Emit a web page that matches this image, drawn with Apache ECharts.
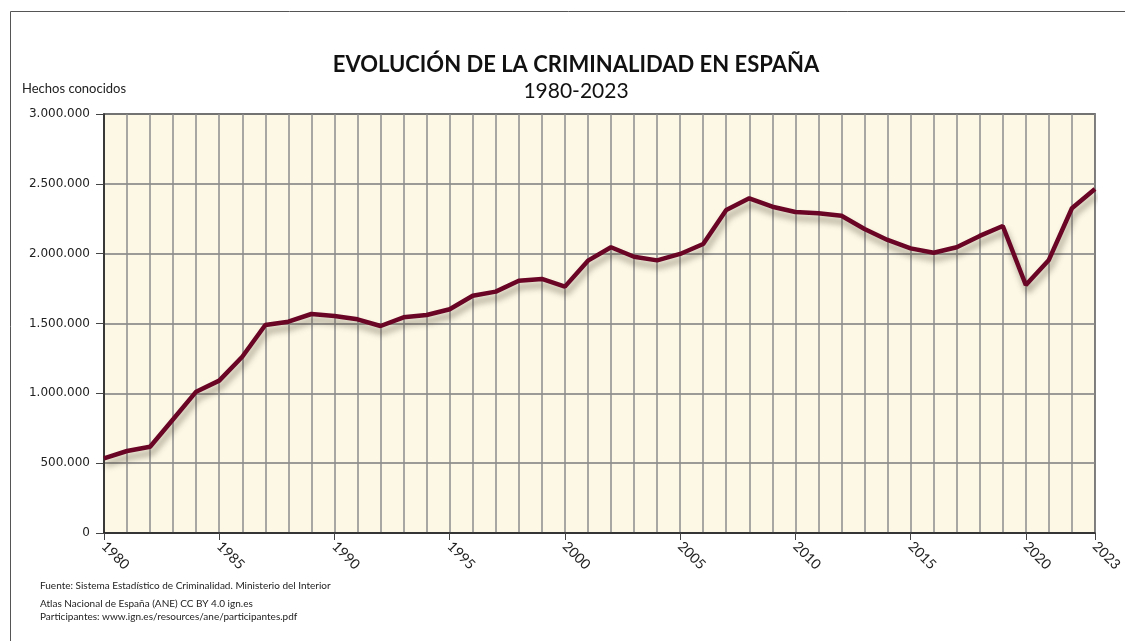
<!DOCTYPE html>
<html>
<head>
<meta charset="utf-8">
<script src="https://cdn.jsdelivr.net/npm/echarts@6/dist/echarts.min.js"></script>
<style>
  html, body { margin: 0; padding: 0; background: #fff; }
  #chart { width: 1125px; height: 641px; }
</style>
</head>
<body>
<div id="chart"></div>
<script>
// años 1980-2023
var years = [];
for (var y = 1980; y <= 2023; y++) years.push(String(y));

// hechos conocidos
var hechos = [
  535000, 587000, 618000, 814000, 1012000, 1091000, 1262000, 1489000, 1513000, 1568000,
  1554000, 1530000, 1482000, 1544000, 1561000, 1602000, 1699000, 1728000, 1806000, 1819000,
  1764000, 1950000, 2046000, 1978000, 1952000, 1998000, 2069000, 2313000, 2396000, 2336000,
  2298000, 2289000, 2272000, 2177000, 2098000, 2038000, 2007000, 2046000, 2127000, 2198000,
  1776000, 1955000, 2325000, 2463000
];

var yTicks = [0, 500000, 1000000, 1500000, 2000000, 2500000, 3000000];

var fuente = [
  "Fuente: Sistema Estadístico de Criminalidad. Ministerio del Interior",
  "Atlas Nacional de España (ANE) CC BY 4.0 ign.es",
  "Participantes: www.ign.es/resources/ane/participantes.pdf"
];

function showYear(i) {
  return i % 5 === 0 || i === years.length - 1;
}

function fmt(v) {
  return String(v).replace(/\B(?=(\d{3})+(?!\d))/g, ".");
}

var chart = echarts.init(document.getElementById("chart"));
chart.setOption({
  animation: false,
  backgroundColor: "#fff",
  title: [
    {
      text: "EVOLUCIÓN DE LA CRIMINALIDAD EN ESPAÑA",
      left: 571, top: 49, textAlign: "center",
      textStyle: { fontFamily: "Lato", fontWeight: "bold", fontSize: 22, color: "#111" }
    },
    {
      text: "1980-2023",
      left: 571, top: 76, textAlign: "center",
      textStyle: { fontFamily: "Lato", fontWeight: "normal", fontSize: 21, color: "#111" }
    }
  ],
  graphic: [
    { type: "rect", shape: { x: 10.5, y: 11.5, width: 1300, height: 800 },
      style: { fill: "none", stroke: "#555", lineWidth: 1 }, silent: true },
    { type: "text", left: 22, top: 82,
      style: { text: "Hechos conocidos", font: "13px Lato", fill: "#222" } },
    { type: "text", left: 40, top: 581,
      style: { text: fuente[0], font: "10px Lato", fill: "#222" } },
    { type: "text", left: 40, top: 599,
      style: { text: fuente[1], font: "10px Lato", fill: "#222" } },
    { type: "text", left: 40, top: 612,
      style: { text: fuente[2], font: "10px Lato", fill: "#222" } }
  ],
  grid: {
    left: 104, right: 30, top: 114, bottom: 108,
    show: true, backgroundColor: "#fdf8e6", borderColor: "#222", borderWidth: 1.5
  },
  xAxis: {
    type: "category",
    data: years,
    boundaryGap: false,
    axisLine: { lineStyle: { color: "#222", width: 1.5 } },
    axisTick: { show: true, length: 7, interval: showYear, lineStyle: { color: "#444" } },
    axisLabel: {
      interval: showYear, rotate: -45, margin: 11,
      fontFamily: "Lato", fontSize: 14, color: "#222"
    },
    splitLine: { show: true, interval: 0, lineStyle: { color: "#8c8c8c", width: 1.5 } }
  },
  yAxis: {
    type: "value",
    min: yTicks[0], max: yTicks[yTicks.length - 1], interval: 500000,
    axisLine: { show: true, lineStyle: { color: "#222", width: 1.5 } },
    axisTick: { show: true, length: 8, lineStyle: { color: "#444" } },
    axisLabel: {
      margin: 14, fontFamily: "DejaVu Sans", fontSize: 12, color: "#222",
      formatter: function (v) { return fmt(v); }
    },
    splitLine: { show: true, lineStyle: { color: "#7d7d7d", width: 1.5 } }
  },
  series: [
    {
      type: "line",
      data: hechos,
      symbol: "none",
      lineStyle: {
        color: "#6a0526", width: 4.5,
        shadowColor: "rgba(60,50,30,0.45)", shadowBlur: 6, shadowOffsetX: 2, shadowOffsetY: 6
      }
    }
  ]
});
</script>
</body>
</html>
